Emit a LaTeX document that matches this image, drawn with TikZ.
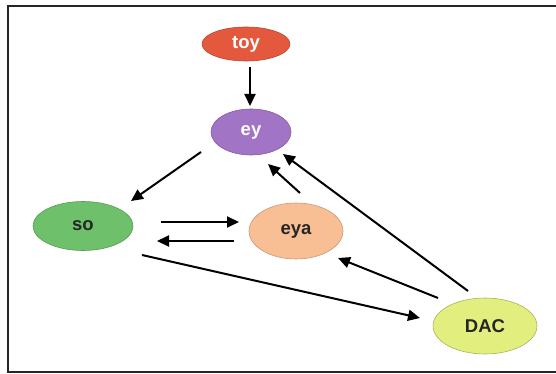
\documentclass[tikz,border=0pt]{standalone}
\usepackage{fontspec}
\setmainfont{Liberation Sans}
\usetikzlibrary{shapes.geometric,arrows.meta}
\definecolor{toyc}{RGB}{228,89,62}
\definecolor{eyc}{RGB}{162,116,198}
\definecolor{soc}{RGB}{110,193,106}
\definecolor{eyac}{RGB}{248,191,148}
\definecolor{dacc}{RGB}{226,239,126}
\tikzset{
  gene/.style={ellipse, inner sep=0pt, line width=0.6pt, font=\fontsize{18.5}{22}\selectfont\bfseries},
  link/.style={line width=2pt, -{Triangle[length=12pt,width=11pt]}},
}
\begin{document}
\begin{tikzpicture}[x=1pt,y=-1pt]
\useasboundingbox (0,0) rectangle (556,374);
\fill[white] (0,0) rectangle (556,374);
\draw[line width=1.6pt, black!85] (556,6) -- (8,6) -- (8,372) -- (556,372);

\node[gene, fill=toyc, draw=toyc!80!black, text=white, minimum width=88pt, minimum height=34pt] (toy) at (246,44) {toy};
\node[gene, fill=eyc, draw=eyc!80!black, text=white, minimum width=80pt, minimum height=46pt] (ey) at (251,132) {ey};
\node[gene, fill=soc, draw=soc!80!black, text=black!85, minimum width=100pt, minimum height=49pt] (so) at (83,226) {so};
\node[gene, fill=eyac, draw=eyac!80!black, text=black!85, minimum width=94pt, minimum height=56pt] (eya) at (296,231) {eya};
\node[gene, fill=dacc, draw=dacc!75!black, text=black!85, minimum width=104pt, minimum height=56pt] (dac) at (485,326) {DAC};

% arrow end points
\coordinate (toyO) at (250,67);
\coordinate (eyI1) at (250,106);
\coordinate (eyO) at (201,152);
\coordinate (soI1) at (131,201);
\coordinate (soO1) at (161,222);
\coordinate (eyaI1) at (239,222);
\coordinate (eyaO1) at (234,241);
\coordinate (soI2) at (157,241);
\coordinate (soO2) at (142,255);
\coordinate (dacI) at (420,318);
\coordinate (dacO1) at (438,298);
\coordinate (eyaI2) at (338,258);
\coordinate (dacO2) at (468,291);
\coordinate (eyI2) at (283,154);
\coordinate (eyaO2) at (300,193);
\coordinate (eyI3) at (268,164);

\draw[link] (toyO) -- (eyI1);
\draw[link] (eyO) -- (soI1);
\draw[link] (soO1) -- (eyaI1);
\draw[link] (eyaO1) -- (soI2);
\draw[link] (soO2) -- (dacI);
\draw[link] (dacO1) -- (eyaI2);
\draw[link] (dacO2) -- (eyI2);
\draw[link] (eyaO2) -- (eyI3);
\end{tikzpicture}
\end{document}
